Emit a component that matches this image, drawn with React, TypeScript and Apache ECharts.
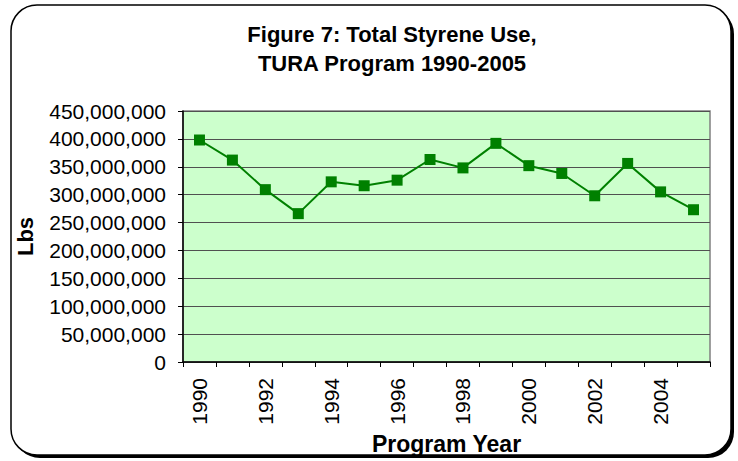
import React, { useEffect, useRef } from "react";
import * as echarts from "echarts";

const years = ["1990","1991","1992","1993","1994","1995","1996","1997","1998","1999","2000","2001","2002","2003","2004","2005"];
const styreneLbs = [398000000, 362000000, 309000000, 266000000, 323000000, 316000000, 326000000, 363000000, 348000000, 392000000, 352000000, 338000000, 298000000, 356000000, 305000000, 273000000];
const titleLines = ["Figure 7: Total Styrene Use,", "TURA Program 1990-2005"];
const yAxisName = "Lbs";
const xAxisName = "Program Year";

const FONT = '"Liberation Sans", Arial, Helvetica, sans-serif';

export default function App() {
  const ref = useRef<HTMLDivElement>(null);
  useEffect(() => {
    document.body.style.margin = "0";
    const chart = echarts.init(ref.current!, null, { renderer: "svg" });
    chart.setOption({
      animation: false,
      backgroundColor: "#ffffff",
      textStyle: { fontFamily: FONT },
      graphic: [
        { type: "rect", z: -10, silent: true, shape: { x: 14, y: 8, width: 720, height: 450, r: 26 }, style: { fill: "#000000" } },
        { type: "rect", z: -9, silent: true, shape: { x: 11, y: 5, width: 720, height: 450, r: 26 }, style: { fill: "#ffffff", stroke: "#000000", lineWidth: 1.5 } },
        { type: "text", z: 10, x: 392, y: 45, style: { text: titleLines[0], font: `bold 22px ${FONT}`, fill: "#000000", textAlign: "center", textVerticalAlign: "bottom" } },
        { type: "text", z: 10, x: 392, y: 74, style: { text: titleLines[1], font: `bold 22px ${FONT}`, fill: "#000000", textAlign: "center", textVerticalAlign: "bottom" } },
      ],
      grid: {
        left: 183, top: 111, width: 527, height: 251,
        show: true, backgroundColor: "#CCFFCC", borderColor: "#808080", borderWidth: 1.5,
      },
      xAxis: {
        type: "category",
        data: years,
        boundaryGap: true,
        name: xAxisName,
        nameLocation: "middle",
        nameGap: 59,
        nameTextStyle: { fontFamily: FONT, fontWeight: "bold", fontSize: 23, color: "#000" },
        axisLine: { lineStyle: { color: "#000", width: 1.5 } },
        axisTick: { show: true, interval: 0, length: 5, lineStyle: { color: "#000" } },
        axisLabel: { interval: 1, rotate: 90, margin: 16, fontSize: 21, color: "#000", fontFamily: FONT },
        splitLine: { show: false },
      },
      yAxis: {
        type: "value",
        min: 0, max: 450000000, interval: 50000000,
        name: yAxisName,
        nameLocation: "middle",
        nameGap: 147,
        nameTextStyle: { fontFamily: FONT, fontWeight: "bold", fontSize: 22, color: "#000" },
        axisLine: { show: true, lineStyle: { color: "#000", width: 1.5 } },
        axisTick: { show: true, length: 5, lineStyle: { color: "#000" } },
        axisLabel: { margin: 17, fontSize: 21, color: "#000", fontFamily: FONT, formatter: (v: number) => v.toLocaleString("en-US") },
        splitLine: { show: true, lineStyle: { color: "#505050", width: 1.2 } },
      },
      series: [
        {
          type: "line",
          data: styreneLbs,
          symbol: "rect",
          symbolSize: 11,
          itemStyle: { color: "#008000" },
          lineStyle: { color: "#008000", width: 2 },
        },
      ],
    });
    return () => chart.dispose();
  }, []);
  return <div ref={ref} style={{ width: 738, height: 461 }} />;
}
